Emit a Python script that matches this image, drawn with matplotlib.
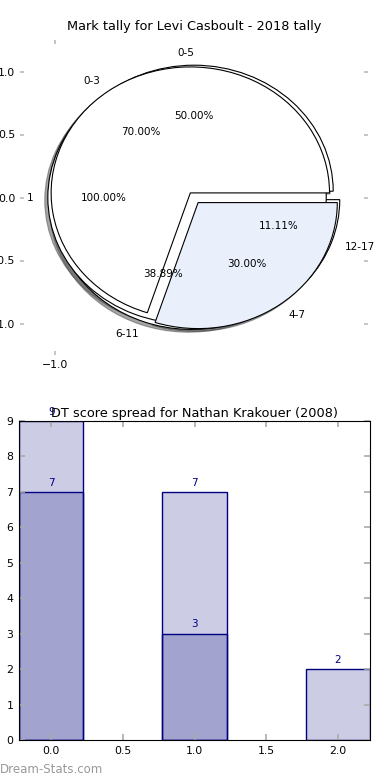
import matplotlib
matplotlib.use("Agg")
import matplotlib.pyplot as plt

# ---- data ----
pie_a_labels = ["1"]
pie_a_values = [1]
pie_b_labels = ["0-3", "4-7"]
pie_b_values = [7, 3]
pie_c_labels = ["0-5", "6-11", "12-17"]
pie_c_values = [9, 7, 2]

bar_x = [0, 1, 2]
bar_light = [9, 7, 2]
bar_dark_x = [0, 1]
bar_dark = [7, 3]

pie_title = "Mark tally for Levi Casboult - 2018 tally"
bar_title = "DT score spread for Nathan Krakouer (2008)"

plt.rcParams['font.family'] = ['DejaVu Sans']
fig = plt.figure(figsize=(3.9, 7.8), dpi=100)

# ---- pie axes ----
ax1 = fig.add_axes([20/390, 1-355/780, 348/390, 315/780])
tp = {'fontsize': 7.5}
wp = {'edgecolor': 'black', 'linewidth': 0.8}
sh = {'ox': -0.016, 'oy': -0.016}
ax1.pie(pie_c_values, labels=pie_c_labels, autopct='%.2f%%',
        explode=[0.05]*len(pie_c_values), colors=['white']*3,
        shadow=sh, wedgeprops=wp, textprops=tp, frame=True)
ax1.pie(pie_a_values, labels=pie_a_labels, autopct='%.2f%%',
        explode=[0.05], colors=['white'],
        shadow=sh, wedgeprops=wp, textprops=tp, frame=True)
ax1.pie(pie_b_values, labels=pie_b_labels, autopct='%.2f%%',
        explode=[0.045, 0.05], colors=['white', '#e9effb'],
        shadow=sh, wedgeprops=wp, textprops=tp, frame=True)
ax1.set_aspect('auto')
ax1.set_xlim(-1.25, 1.25)
ax1.set_ylim(-1.25, 1.25)
ax1.set_frame_on(False)
ax1.set_xticks([-1.0])
ax1.set_xticklabels(['\u22121.0'])
ax1.set_yticks([-1.0, -0.5, 0.0, 0.5, 1.0])
ax1.set_yticklabels(['\u22121.0', '\u22120.5', '0.0', '0.5', '1.0'])
ax1.tick_params(axis='both', direction='in', length=3, width=1.2,
                color='#bbbbbb', labelsize=7.8, top=True, right=True)
ax1.set_title(pie_title, fontsize=9.3, pad=7)

# ---- bar axes ----
ax2 = fig.add_axes([19/390, 1-740/780, 351/390, 319/780])
w = 0.45
ax2.bar(bar_x, bar_light, width=w, facecolor=(0, 0, 0.5, 0.2),
        edgecolor='navy', linewidth=1)
ax2.bar(bar_dark_x, bar_dark, width=w, facecolor=(0, 0, 0.5, 0.2),
        edgecolor='navy', linewidth=1)
for x, v in zip(bar_x, bar_light):
    ax2.text(x, v + 0.12, str(v), ha='center', va='bottom', color='navy', fontsize=7.5)
for x, v in zip(bar_dark_x, bar_dark):
    ax2.text(x, v + 0.12, str(v), ha='center', va='bottom', color='navy', fontsize=7.5)
ax2.set_xlim(-0.225, 2.225)
ax2.set_ylim(0, 9)
ax2.set_xticks([0.0, 0.5, 1.0, 1.5, 2.0])
ax2.set_yticks(range(0, 10))
ax2.tick_params(axis='both', direction='in', length=4, width=1.2,
                color='#aaaaaa', labelsize=7.8, top=True, right=True, pad=4)
ax2.set_title(bar_title, fontsize=9.3, pad=3)

fig.text(0.0, 0.005, "Dream-Stats.com", color='#999999', fontsize=8.5,
         ha='left', va='bottom')

fig.savefig("out.png", dpi=100)
